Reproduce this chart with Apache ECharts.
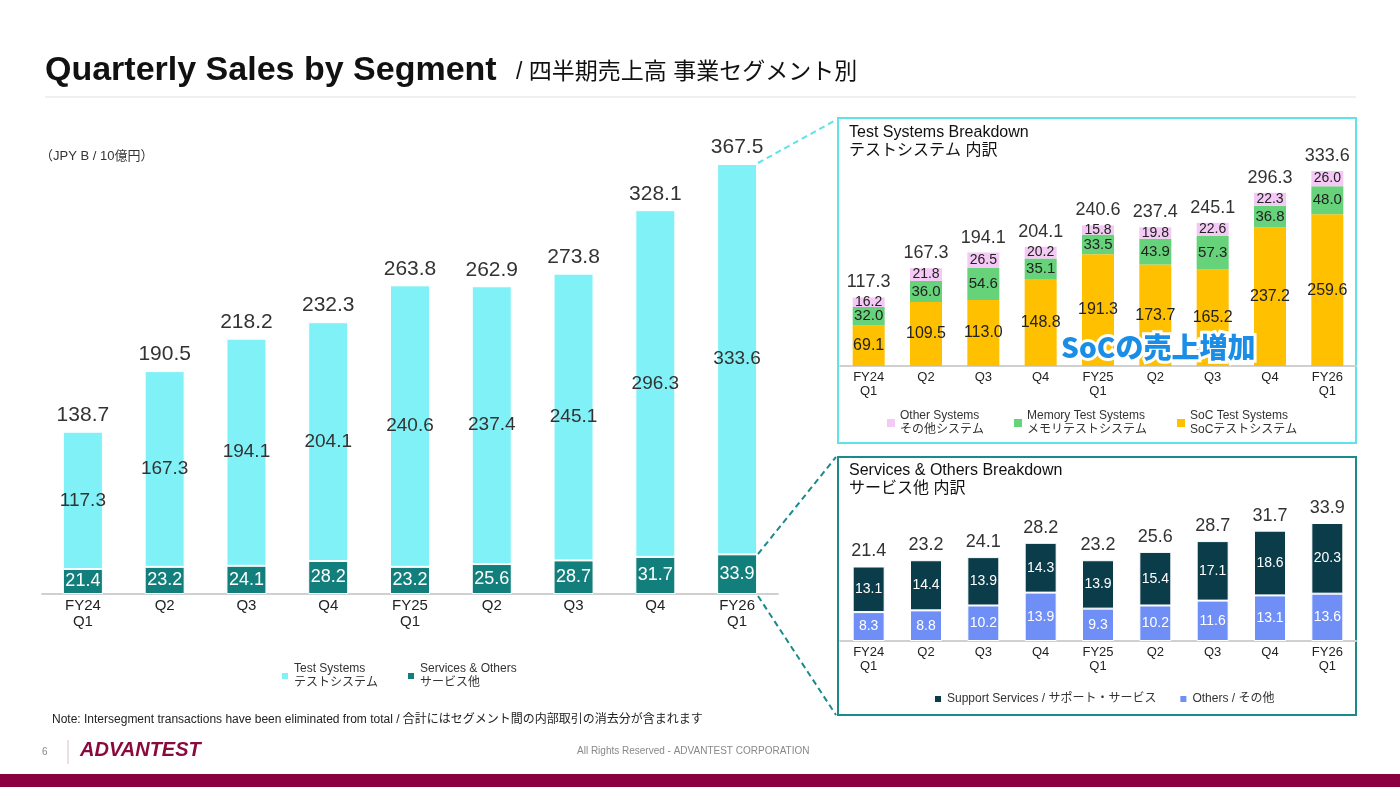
<!DOCTYPE html>
<html lang="ja">
<head>
<meta charset="UTF-8">
<title>Quarterly Sales by Segment</title>
<script src="https://cdn.jsdelivr.net/npm/echarts@6/dist/echarts.min.js"></script>
<style>
  html, body { margin: 0; padding: 0; background: #fff; }
  #main { width: 1400px; height: 787px; }
</style>
</head>
<body>
<div id="main"></div>
<script>
// 四半期ラベル
var quarters = ['FY24\nQ1', 'Q2', 'Q3', 'Q4', 'FY25\nQ1', 'Q2', 'Q3', 'Q4', 'FY26\nQ1'];

// 全体
var testSystems = [117.3, 167.3, 194.1, 204.1, 240.6, 237.4, 245.1, 296.3, 333.6];
var servicesOthers = [21.4, 23.2, 24.1, 28.2, 23.2, 25.6, 28.7, 31.7, 33.9];
var totalSales = [138.7, 190.5, 218.2, 232.3, 263.8, 262.9, 273.8, 328.1, 367.5];

// テストシステム内訳
var socTest = [69.1, 109.5, 113.0, 148.8, 191.3, 173.7, 165.2, 237.2, 259.6];
var memoryTest = [32.0, 36.0, 54.6, 35.1, 33.5, 43.9, 57.3, 36.8, 48.0];
var otherSystems = [16.2, 21.8, 26.5, 20.2, 15.8, 19.8, 22.6, 22.3, 26.0];

// サービス他内訳
var others = [8.3, 8.8, 10.2, 13.9, 9.3, 10.2, 11.6, 13.1, 13.6];
var supportServices = [13.1, 14.4, 13.9, 14.3, 13.9, 15.4, 17.1, 18.6, 20.3];

var font = 'Liberation Sans, Arial, "Noto Sans CJK JP", sans-serif';
var fmt1 = function (v) { return v.toFixed(1); };

var myChart = echarts.init(document.getElementById('main'));

function xAxisFor(idx, size) {
    return {
        type: 'category', gridIndex: idx, data: quarters,
        axisTick: { show: false },
        axisLine: { lineStyle: { color: '#d0d0d0', width: 2 } },
        axisLabel: { color: '#222', fontSize: size, lineHeight: size + 1, fontFamily: font, margin: 4 }
    };
}
function yAxisFor(idx, max) {
    return { type: 'value', gridIndex: idx, min: 0, max: max, show: false, splitLine: { show: false } };
}
function topLabel(arr, size) {
    return {
        show: true, position: 'top', distance: 6, fontSize: size, color: '#333', fontFamily: font,
        formatter: function (p) { return fmt1(arr[p.dataIndex]); }
    };
}
function inLabel(size, color) {
    return { show: true, position: 'inside', color: color, fontSize: size, formatter: function (p) { return fmt1(p.value); } };
}

option = {
    animation: false,
    textStyle: { fontFamily: font },
    grid: [
        { left: 42, right: 622, top: 164, bottom: 193 },
        { left: 840, right: 44, top: 171, bottom: 421 },
        { left: 840, right: 44, top: 523, bottom: 146 }
    ],
    xAxis: [xAxisFor(0, 15), xAxisFor(1, 13), xAxisFor(2, 13)],
    yAxis: [yAxisFor(0, 367.5), yAxisFor(1, 333.6), yAxisFor(2, 33.9)],
    legend: [
        {
            data: ['Test Systems\nテストシステム', 'Services & Others\nサービス他'],
            left: 275, top: 657, itemWidth: 8, itemHeight: 8, itemGap: 28, icon: 'rect',
            textStyle: { fontSize: 12, color: '#333', lineHeight: 14 }
        },
        {
            data: ['Other Systems\nその他システム', 'Memory Test Systems\nメモリテストシステム', 'SoC Test Systems\nSoCテストシステム'],
            left: 882, top: 404, itemWidth: 8, itemHeight: 8, itemGap: 30, icon: 'rect',
            textStyle: { fontSize: 12, color: '#333', lineHeight: 14 }
        },
        {
            data: ['Support Services / サポート・サービス', 'Others / その他'],
            left: 928, top: 688, itemWidth: 8, itemHeight: 8, itemGap: 22, icon: 'rect',
            textStyle: { fontSize: 12, color: '#333' }
        }
    ],
    series: [
        {
            name: 'Services & Others\nサービス他', type: 'bar', stack: 'm', xAxisIndex: 0, yAxisIndex: 0,
            data: servicesOthers, barWidth: 40,
            itemStyle: { color: '#137f7d', borderColor: '#fff', borderWidth: 1 },
            label: inLabel(18, '#fff')
        },
        {
            name: 'Test Systems\nテストシステム', type: 'bar', stack: 'm', xAxisIndex: 0, yAxisIndex: 0,
            data: testSystems, barWidth: 40,
            itemStyle: { color: '#80f1f7', borderColor: '#fff', borderWidth: 1 },
            label: inLabel(19, '#333')
        },
        {
            name: 'tot1', type: 'bar', stack: 'm', xAxisIndex: 0, yAxisIndex: 0,
            data: totalSales.map(function () { return 0; }), barWidth: 40,
            label: topLabel(totalSales, 21)
        },
        {
            name: 'SoC Test Systems\nSoCテストシステム', type: 'bar', stack: 't', xAxisIndex: 1, yAxisIndex: 1,
            data: socTest, barWidth: 32,
            itemStyle: { color: '#ffc000' },
            label: inLabel(16, '#222')
        },
        {
            name: 'Memory Test Systems\nメモリテストシステム', type: 'bar', stack: 't', xAxisIndex: 1, yAxisIndex: 1,
            data: memoryTest, barWidth: 32,
            itemStyle: { color: '#66d27a' },
            label: inLabel(15, '#222')
        },
        {
            name: 'Other Systems\nその他システム', type: 'bar', stack: 't', xAxisIndex: 1, yAxisIndex: 1,
            data: otherSystems, barWidth: 32,
            itemStyle: { color: '#f5c9f5' },
            label: inLabel(14, '#222')
        },
        {
            name: 'tot2', type: 'bar', stack: 't', xAxisIndex: 1, yAxisIndex: 1,
            data: testSystems.map(function () { return 0; }), barWidth: 32,
            label: topLabel(testSystems, 18)
        },
        {
            name: 'Others / その他', type: 'bar', stack: 's', xAxisIndex: 2, yAxisIndex: 2,
            data: others, barWidth: 32,
            itemStyle: { color: '#6f8ff7', borderColor: '#fff', borderWidth: 1 },
            label: inLabel(14, '#fff')
        },
        {
            name: 'Support Services / サポート・サービス', type: 'bar', stack: 's', xAxisIndex: 2, yAxisIndex: 2,
            data: supportServices, barWidth: 32,
            itemStyle: { color: '#0b3c4a', borderColor: '#fff', borderWidth: 1 },
            label: inLabel(14, '#fff')
        },
        {
            name: 'tot3', type: 'bar', stack: 's', xAxisIndex: 2, yAxisIndex: 2,
            data: servicesOthers.map(function () { return 0; }), barWidth: 32,
            label: topLabel(servicesOthers, 18)
        }
    ],
    graphic: [
        { type: 'text', left: 45, top: 54, style: { text: 'Quarterly Sales by Segment', font: 'bold 34px ' + font, fill: '#111' } },
        { type: 'text', left: 516, top: 61, style: { text: '/ 四半期売上高 事業セグメント別', font: '23px ' + font, fill: '#111' } },
        { type: 'line', shape: { x1: 45, y1: 97, x2: 1356, y2: 97 }, style: { stroke: '#e0e0e0', lineWidth: 1 } },
        { type: 'text', left: 40, top: 150, style: { text: '（JPY B / 10億円）', font: '13px ' + font, fill: '#333' } },
        // 右側の枠
        { type: 'rect', shape: { x: 838, y: 118, width: 518, height: 325 }, style: { fill: 'none', stroke: '#5fe3ea', lineWidth: 2 } },
        { type: 'rect', shape: { x: 838, y: 457, width: 518, height: 258 }, style: { fill: 'none', stroke: '#1b8b89', lineWidth: 2 } },
        { type: 'text', left: 849, top: 124, style: { text: 'Test Systems Breakdown\nテストシステム 内訳', font: '16px ' + font, lineHeight: 18, fill: '#111' } },
        { type: 'text', left: 849, top: 462, style: { text: 'Services & Others Breakdown\nサービス他 内訳', font: '16px ' + font, lineHeight: 18, fill: '#111' } },
        // 点線
        { type: 'line', shape: { x1: 758, y1: 163, x2: 836, y2: 120 }, style: { stroke: '#5fe3ea', lineWidth: 2, lineDash: [6, 4] } },
        { type: 'line', shape: { x1: 758, y1: 554, x2: 836, y2: 457 }, style: { stroke: '#1b8b89', lineWidth: 2, lineDash: [6, 4] } },
        { type: 'line', shape: { x1: 758, y1: 596, x2: 836, y2: 715 }, style: { stroke: '#1b8b89', lineWidth: 2, lineDash: [6, 4] } },
        {
            type: 'text', left: 1058, top: 330, z: 10,
            style: { text: 'SoCの売上増加', font: '900 28px "Noto Sans CJK JP", sans-serif', fill: '#1a8ee6',
                     stroke: '#fff', lineWidth: 6, shadowBlur: 8, shadowColor: '#fff' }
        },
        { type: 'text', left: 52, top: 714, style: { text: 'Note: Intersegment transactions have been eliminated from total / 合計にはセグメント間の内部取引の消去分が含まれます', font: '12px ' + font, fill: '#222' } },
        // フッター
        { type: 'text', left: 42, top: 747, style: { text: '6', font: '10px ' + font, fill: '#888' } },
        { type: 'line', shape: { x1: 68, y1: 740, x2: 68, y2: 764 }, style: { stroke: '#d8c0c8', lineWidth: 1 } },
        { type: 'text', left: 80, top: 740, style: { text: 'ADVANTEST', font: 'italic 900 20px ' + font, fill: '#8a0a3c' } },
        { type: 'text', left: 577, top: 746, style: { text: 'All Rights Reserved - ADVANTEST CORPORATION', font: '10px ' + font, fill: '#888' } },
        { type: 'rect', shape: { x: 0, y: 774, width: 1400, height: 13 }, style: { fill: '#8a0040' } }
    ]
};

myChart.setOption(option);
</script>
</body>
</html>
